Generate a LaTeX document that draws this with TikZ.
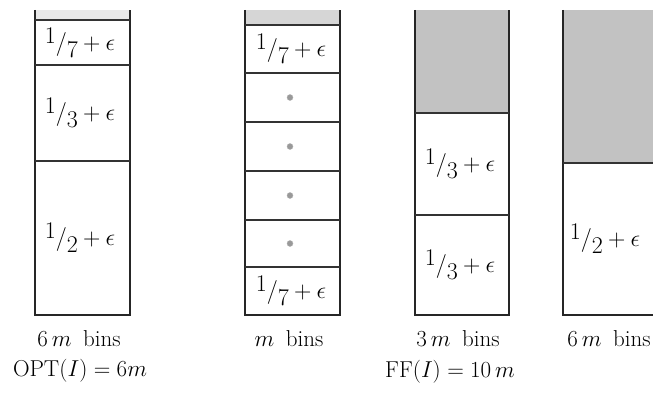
\RequirePackage{fix-cm}
\documentclass[tikz,border=0pt]{standalone}
\usepackage{amsmath,amssymb}
\usepackage{tikz}
\newcommand{\slfrac}[2]{\raisebox{.3em}{$#1$}/\raisebox{-.3em}{$#2$}}
\tikzset{
  binwall/.style={draw=black!85, line width=1.4pt},
  divider/.style={draw=black!80, line width=1.1pt},
  emptyspace/.style={fill=black!24},
  thinspace/.style={fill=black!9},
  itemlabel/.style={font=\fontsize{24}{27}\selectfont, inner sep=0pt},
  countlabel/.style={font=\fontsize{23}{27}\selectfont, anchor=base, inner sep=0pt},
  dotmark/.style={circle, fill=black!40, draw=black!30, inner sep=0pt, minimum size=6pt}
}

\begin{document}
\begin{tikzpicture}[x=1pt, y=-1pt]
  \useasboundingbox (0,0) rectangle (653,396);
  \clip (0,0) rectangle (653,396);
  % unfilled room at the top of each bin
  \fill[thinspace] (35,10) rectangle (130,20);
  \fill[emptyspace, fill=black!16] (245,10) rectangle (340,25);
  \fill[emptyspace] (415,10) rectangle (509,113);
  \fill[emptyspace] (563,10) rectangle (656,163);
  % optimal packing: one bin of the 6m
  \draw[binwall] (35,10) -- (35,315) -- (130,315) -- (130,10);
  \draw[divider] (35,20) -- (130,20);
  \draw[divider] (35,65) -- (130,65);
  \draw[divider] (35,161) -- (130,161);
  \node[itemlabel] (opt7) at (80,42.5) {\slfrac17${}+\epsilon$};
  \node[itemlabel] (opt3) at (80,113) {\slfrac13${}+\epsilon$};
  \node[itemlabel] (opt2) at (80,238) {\slfrac12${}+\epsilon$};
  % first fit: bins with the small items
  \draw[binwall] (245,10) -- (245,315) -- (340,315) -- (340,10);
  \draw[divider] (245,25) -- (340,25);
  \draw[divider] (245,73) -- (340,73);
  \draw[divider] (245,122) -- (340,122);
  \draw[divider] (245,171) -- (340,171);
  \draw[divider] (245,220) -- (340,220);
  \draw[divider] (245,267) -- (340,267);
  \node[itemlabel] (ff7top) at (291,49) {\slfrac17${}+\epsilon$};
  \node[dotmark] (dota) at (290,97.5) {};
  \node[dotmark] (dotb) at (290,146.5) {};
  \node[dotmark] (dotc) at (290,195.5) {};
  \node[dotmark] (dotd) at (290,243.5) {};
  \node[itemlabel] (ff7bot) at (291,291) {\slfrac17${}+\epsilon$};
  % first fit: bins with two thirds
  \draw[binwall] (415,10) -- (415,315) -- (509,315) -- (509,10);
  \draw[divider] (415,113) -- (509,113);
  \draw[divider] (415,215) -- (509,215);
  \node[itemlabel] (ff3top) at (460,164) {\slfrac13${}+\epsilon$};
  \node[itemlabel] (ff3bot) at (460,265) {\slfrac13${}+\epsilon$};
  % first fit: bins with one half
  \draw[binwall] (563,10) -- (563,315) -- (656,315) -- (656,10);
  \draw[divider] (563,163) -- (656,163);
  \node[itemlabel] (ff2) at (605,239) {\slfrac12${}+\epsilon$};
  % counts and totals
  \node[countlabel] (cnt1) at (79,346) {$6\,m$\enspace bins};
  \node[countlabel] (cnt2) at (289,346) {$m$\enspace bins};
  \node[countlabel] (cnt3) at (458,346) {$3\,m$\enspace bins};
  \node[countlabel] (cnt4) at (609,346) {$6\,m$\enspace bins};
  \node[countlabel] (optsum) at (80,376) {$\mathrm{OPT}(I)=6m$};
  \node[countlabel] (ffsum) at (450,377) {$\mathrm{FF}(I)=10\,m$};
\end{tikzpicture}
\end{document}
